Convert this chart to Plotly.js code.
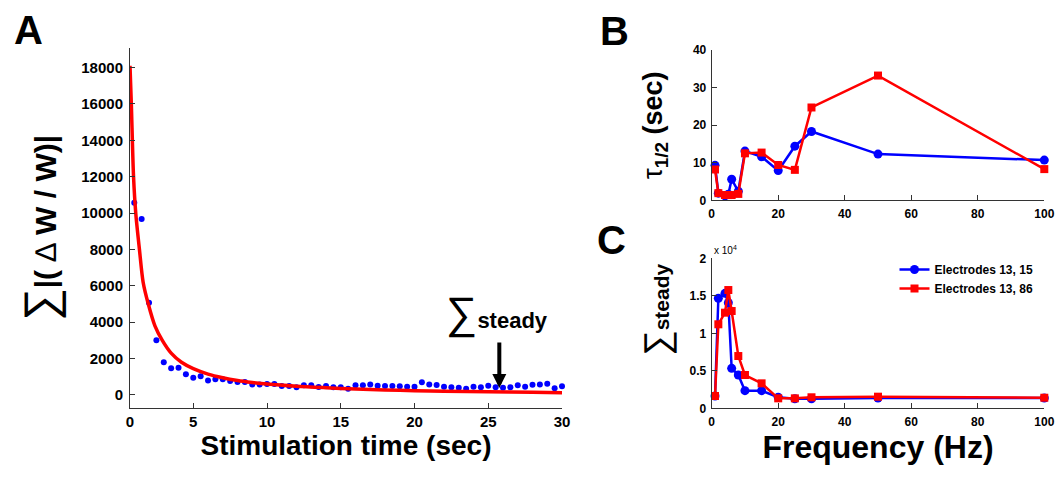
<!DOCTYPE html>
<html>
<head>
<meta charset="utf-8">
<script src="https://cdn.plot.ly/plotly-3.0.1.min.js"></script>
<style>
  html, body { margin: 0; padding: 0; background: #fff; }
  #chart { width: 1058px; height: 487px; }
</style>
</head>
<body>
<div id="chart"></div>
<script>
// ---- Panel A: cumulative weight change vs stimulation time ----
const stimTime = [1.0, 1.5, 2.0, 2.5, 3.0, 3.5, 4.0, 4.5, 5.0, 5.5, 6.0, 6.5, 7.0, 7.5, 8.0, 8.5,
  9.0, 9.5, 10.0, 10.5, 11.0, 11.5, 12.0, 12.5, 13.0, 13.5, 14.0, 14.5, 15.0, 15.5, 16.0, 16.5,
  17.0, 17.5, 18.0, 18.5, 19.0, 19.5, 20.0, 20.5, 21.0, 21.5, 22.0, 22.5, 23.0, 23.5, 24.0, 24.5,
  25.0, 25.5, 26.0, 26.5, 27.0, 27.5, 28.0, 28.5, 29.0, 29.5, 30.0];
const sumDeltaW = [10570, 9680, 5070, 3010, 1800, 1470, 1500, 1140, 950, 1030, 790, 860, 860, 770, 720, 720,
  570, 570, 600, 600, 490, 490, 430, 530, 530, 440, 490, 420, 420, 350, 530, 530,
  580, 510, 490, 490, 480, 460, 460, 700, 580, 550, 460, 420, 400, 350, 460, 430,
  510, 420, 400, 430, 530, 460, 560, 570, 620, 370, 480];

// fitted decay curve
const fitTime = [0.71, 0.8, 0.95, 1.1, 1.35, 1.6, 1.95, 2.4, 2.9, 3.5, 4.2, 5, 6, 7, 8, 9, 10,
  12, 14, 16, 18, 20, 22, 25, 28, 30];
const fitValue = [18100, 16000, 12000, 10000, 8000, 6200, 5000, 3800, 3000, 2300, 1800, 1450, 1150, 950, 800, 690, 600,
  480, 400, 330, 280, 240, 205, 175, 145, 130];

const timeTicks = [0.71, 5, 10, 15, 20, 25, 30];
const timeTickText = ['0', '5', '10', '15', '20', '25', '30'];
const sumTicks = [0, 2000, 4000, 6000, 8000, 10000, 12000, 14000, 16000, 18000];
const sumTickText = ['0', '2000', '4000', '6000', '8000', '10000', '12000', '14000', '16000', '18000'];

// ---- Panels B and C: frequency dependence ----
const frequency = [1, 2, 4, 5, 6, 8, 10, 15, 20, 25, 30, 50, 100];
const tauE15 = [9.3, 1.9, 1.2, 1.6, 5.6, 2.4, 13.1, 11.6, 7.9, 14.4, 18.3, 12.3, 10.7];
const tauE86 = [8.2, 1.9, 1.4, 1.4, 1.4, 1.7, 12.5, 12.7, 9.4, 8.1, 24.7, 33.2, 8.3];
const steadyE15 = [1640, 14670, 15330, 14080, 5330, 4440, 2350, 2350, 1470, 1280, 1280, 1370, 1370];
const steadyE86 = [1640, 11200, 12750, 15770, 12970, 6970, 4440, 3330, 1330, 1330, 1470, 1550, 1410];

const freqTicks = [0, 20, 40, 60, 80, 100];
const tauTicks = [0, 10, 20, 30, 40];
const steadyTicks = [0, 5000, 10000, 15000, 20000];
const steadyTickText = ['0', '0.5', '1', '1.5', '2'];

const seriesNames = ['Electrodes 13, 15', 'Electrodes 13, 86'];

const FONT = 'Liberation Sans, Arial, Helvetica, sans-serif';
const BLUE = '#0000ff';
const RED = '#ff0000';
const AXIS = '#333333';

const traces = [
  { x: stimTime, y: sumDeltaW, type: 'scatter', mode: 'markers',
    marker: { color: BLUE, size: 6 }, xaxis: 'x', yaxis: 'y', showlegend: false, cliponaxis: false },
  { x: fitTime, y: fitValue, type: 'scatter', mode: 'lines',
    line: { color: RED, width: 3.5, shape: 'spline', smoothing: 0.8 }, xaxis: 'x', yaxis: 'y', showlegend: false },

  { x: frequency, y: tauE15, type: 'scatter', mode: 'lines+markers', name: seriesNames[0],
    line: { color: BLUE, width: 2.5 }, marker: { color: BLUE, size: 9, symbol: 'circle' },
    xaxis: 'x2', yaxis: 'y2', showlegend: false, cliponaxis: false },
  { x: frequency, y: tauE86, type: 'scatter', mode: 'lines+markers', name: seriesNames[1],
    line: { color: RED, width: 2.5 }, marker: { color: RED, size: 8, symbol: 'square' },
    xaxis: 'x2', yaxis: 'y2', showlegend: false, cliponaxis: false },

  { x: frequency, y: steadyE15, type: 'scatter', mode: 'lines+markers', name: seriesNames[0],
    line: { color: BLUE, width: 2.5 }, marker: { color: BLUE, size: 9, symbol: 'circle' },
    xaxis: 'x3', yaxis: 'y3', showlegend: true, cliponaxis: false },
  { x: frequency, y: steadyE86, type: 'scatter', mode: 'lines+markers', name: seriesNames[1],
    line: { color: RED, width: 2.5 }, marker: { color: RED, size: 8, symbol: 'square' },
    xaxis: 'x3', yaxis: 'y3', showlegend: true, cliponaxis: false }
];

const W = 1058, H = 487;
const px = v => v / W;          // horizontal pixel -> paper
const py = v => 1 - v / H;      // vertical pixel -> paper

const baseAxis = {
  showline: true, linecolor: AXIS, linewidth: 1,
  ticks: 'inside', ticklen: 5, tickwidth: 1, tickcolor: AXIS,
  showgrid: false, zeroline: false, mirror: false, fixedrange: true
};

const layout = {
  width: W, height: H,
  margin: { l: 0, r: 0, t: 0, b: 0 },
  paper_bgcolor: '#ffffff', plot_bgcolor: '#ffffff',
  font: { family: FONT, color: '#000000' },
  showlegend: true,
  legend: {
    x: px(894.5), y: py(255), xanchor: 'left', yanchor: 'top',
    bgcolor: 'rgba(0,0,0,0)', borderwidth: 0, itemwidth: 30,
    font: { family: FONT, size: 12, weight: 'bold', color: '#000' }
  },

  xaxis: Object.assign({}, baseAxis, {
    domain: [px(130), px(562)], range: [0.71, 30], anchor: 'y',
    tickmode: 'array', tickvals: timeTicks, ticktext: timeTickText,
    tickfont: { size: 15, weight: 'bold' }, ticklabelstandoff: 0,
    title: { text: 'Stimulation time (sec)', font: { size: 28, weight: 'bold' }, standoff: 0 }
  }),
  yaxis: Object.assign({}, baseAxis, {
    domain: [py(408), py(48)], range: [-715, 19075], anchor: 'x',
    tickmode: 'array', tickvals: sumTicks, ticktext: sumTickText,
    tickfont: { size: 15, weight: 'bold' }, ticklabelstandoff: 3,
    title: {
      text: '<span style="font-weight:normal;font-size:46px">∑</span>|( <span style="font-weight:normal">∆</span> W / W)|',
      font: { size: 30, weight: 'bold' }, standoff: 15
    }
  }),

  xaxis2: Object.assign({}, baseAxis, {
    domain: [px(711.7), px(1044.3)], range: [0, 100], anchor: 'y2',
    tickmode: 'array', tickvals: freqTicks,
    tickfont: { size: 12, weight: 'bold' }, ticklabelstandoff: 2
  }),
  yaxis2: Object.assign({}, baseAxis, {
    domain: [py(200.3), py(50)], range: [0, 40], anchor: 'x2',
    tickmode: 'array', tickvals: tauTicks,
    tickfont: { size: 12, weight: 'bold' }, ticklabelstandoff: 2,
    title: {
      text: '<span style="font-weight:normal">τ</span><sub>1/2</sub> (sec)',
      font: { size: 27, weight: 'bold' }, standoff: 22
    }
  }),

  xaxis3: Object.assign({}, baseAxis, {
    domain: [px(711.7), px(1044.3)], range: [0, 100], anchor: 'y3',
    tickmode: 'array', tickvals: freqTicks,
    tickfont: { size: 12, weight: 'bold' }, ticklabelstandoff: 2,
    title: { text: 'Frequency (Hz)', font: { size: 32, weight: 'bold' }, standoff: 0 }
  }),
  yaxis3: Object.assign({}, baseAxis, {
    domain: [py(408.3), py(258.3)], range: [0, 20000], anchor: 'x3',
    tickmode: 'array', tickvals: steadyTicks, ticktext: steadyTickText,
    tickfont: { size: 12, weight: 'bold' }, ticklabelstandoff: 2
  }),

  annotations: [
    { text: '<b>A</b>', xref: 'paper', yref: 'paper', x: px(28), y: py(30),
      xanchor: 'center', yanchor: 'middle', showarrow: false, font: { size: 40, family: FONT } },
    { text: '<b>B</b>', xref: 'paper', yref: 'paper', x: px(614), y: py(31),
      xanchor: 'center', yanchor: 'middle', showarrow: false, font: { size: 40, family: FONT } },
    { text: '<b>C</b>', xref: 'paper', yref: 'paper', x: px(611), y: py(240),
      xanchor: 'center', yanchor: 'middle', showarrow: false, font: { size: 40, family: FONT } },
    // y title of panel C
    { text: '∑<span style="font-weight:bold;font-size:21px">steady</span>', xref: 'paper', yref: 'paper',
      x: px(656), y: py(310), xanchor: 'center', yanchor: 'middle', textangle: -90, showarrow: false,
      font: { size: 36, family: FONT } },
    // steady-state marker in panel A
    { text: '∑<span style="font-weight:bold;font-size:22px">steady</span>', xref: 'x', yref: 'y',
      x: 25.6, y: 3000, xanchor: 'center', yanchor: 'bottom', showarrow: false,
      font: { size: 44, family: FONT } },
    { text: '', xref: 'x', yref: 'y', x: 25.75, y: 385, showarrow: true,
      ax: 0, ay: -47, arrowhead: 2, arrowsize: 0.7, arrowwidth: 4, arrowcolor: '#000' },
    // exponent label for panel C
    { text: 'x 10<sup>4</sup>', xref: 'paper', yref: 'paper', x: px(712), y: py(250),
      xanchor: 'left', yanchor: 'middle', showarrow: false, font: { size: 10, family: FONT } }
  ]
};

Plotly.newPlot('chart', traces, layout, { displayModeBar: false, staticPlot: true });
</script>
</body>
</html>
